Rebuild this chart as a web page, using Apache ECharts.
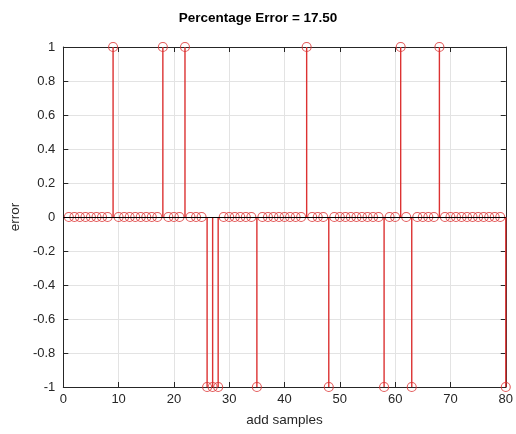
<!DOCTYPE html>
<html>
<head>
<meta charset="utf-8">
<script src="https://cdn.jsdelivr.net/npm/echarts@6/dist/echarts.min.js"></script>
<style>
html,body{margin:0;padding:0;background:#fff;}
#c{width:516px;height:434px;}
</style>
</head>
<body>
<div id="c"></div>
<script>
// sample indices 1..80
const samples = [];
for (let i = 1; i <= 80; i++) samples.push(i);
// error values (+1 at 9,18,22,44,61,68; -1 at 26,27,28,35,48,58,63,80)
const errors = [
 0,0,0,0,0,0,0,0,1,0,
 0,0,0,0,0,0,0,1,0,0,
 0,1,0,0,0,-1,-1,-1,0,0,
 0,0,0,0,-1,0,0,0,0,0,
 0,0,0,1,0,0,0,-1,0,0,
 0,0,0,0,0,0,0,-1,0,0,
 1,0,-1,0,0,0,0,1,0,0,
 0,0,0,0,0,0,0,0,0,-1
];
const xTicks = {min: 0, max: 80, interval: 10};
const yTicks = {min: -1, max: 1, interval: 0.2};
const titleText = 'Percentage Error = 17.50';
const xName = 'add samples';
const yName = 'error';

const pts = samples.map((s, i) => [s, errors[i]]);
const red = '#dc3232';
const axisCol = '#262626';
const font = 'Liberation Sans, Arial, sans-serif';

const chart = echarts.init(document.getElementById('c'), null, {renderer: 'canvas'});
const baseAxis = {
  axisLine: {show: true, onZero: false, lineStyle: {color: axisCol, width: 1}},
  axisTick: {show: true, inside: true, length: 5, lineStyle: {color: axisCol}},
};
chart.setOption({
  backgroundColor: '#fff',
  animation: false,
  title: {
    text: titleText, left: 'center', top: 6,
    textStyle: {fontFamily: font, fontSize: 13.5, fontWeight: 'bold', color: '#000'}
  },
  grid: {left: 61, right: 9, top: 47, bottom: 47},
  xAxis: [
    Object.assign({}, baseAxis, {
      type: 'value', min: xTicks.min, max: xTicks.max, interval: xTicks.interval,
      name: xName, nameLocation: 'middle', nameGap: 26,
      nameTextStyle: {fontFamily: font, fontSize: 13.5, color: axisCol},
      axisLabel: {fontFamily: font, fontSize: 13, color: axisCol, margin: 6},
      splitLine: {show: true, lineStyle: {color: '#e3e3e3', width: 1}}
    }),
    Object.assign({}, baseAxis, {
      type: 'value', position: 'top', min: xTicks.min, max: xTicks.max, interval: xTicks.interval,
      axisLabel: {show: false}, splitLine: {show: false}
    })
  ],
  yAxis: [
    Object.assign({}, baseAxis, {
      type: 'value', min: yTicks.min, max: yTicks.max, interval: yTicks.interval,
      name: yName, nameLocation: 'middle', nameGap: 36, nameRotate: 90,
      nameTextStyle: {fontFamily: font, fontSize: 13.5, color: axisCol},
      axisLabel: {fontFamily: font, fontSize: 13, color: axisCol, margin: 8},
      splitLine: {show: true, lineStyle: {color: '#e3e3e3', width: 1}}
    }),
    Object.assign({}, baseAxis, {
      type: 'value', position: 'right', min: yTicks.min, max: yTicks.max, interval: yTicks.interval,
      axisLabel: {show: false}, splitLine: {show: false}
    })
  ],
  series: [
    {
      type: 'custom',
      xAxisIndex: 0, yAxisIndex: 0,
      clip: false,
      z: 3,
      renderItem: function (params, api) {
        const x = api.value(0), y = api.value(1);
        if (y === 0) return null;
        const p0 = api.coord([x, 0]);
        const p1 = api.coord([x, y]);
        return {
          type: 'line',
          shape: {x1: p0[0], y1: p0[1], x2: p1[0], y2: p1[1]},
          style: {stroke: red, lineWidth: 1.4}
        };
      },
      data: pts,
      markLine: {
        silent: true, symbol: ['none', 'none'], label: {show: false},
        lineStyle: {color: '#000', width: 1, type: 'solid'},
        data: [{yAxis: 0}]
      }
    },
    {
      type: 'scatter',
      xAxisIndex: 0, yAxisIndex: 0,
      clip: false,
      z: 4,
      symbol: 'circle',
      symbolSize: 9,
      itemStyle: {color: 'rgba(0,0,0,0)', borderColor: red, borderWidth: 1.1},
      data: pts
    }
  ]
});
</script>
</body>
</html>
